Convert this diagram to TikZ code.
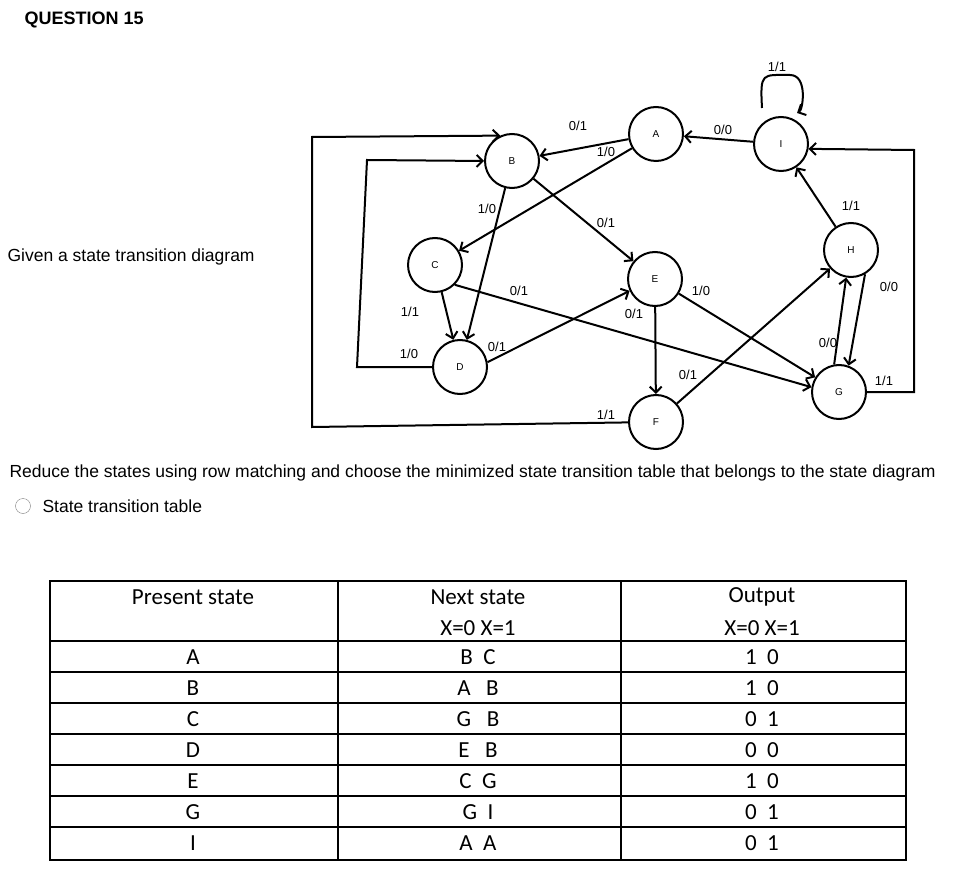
\documentclass[tikz,border=0pt]{standalone}
\usepackage{fontspec}
\setmainfont{Liberation Sans}
\newfontfamily\tabfont{Carlito}
\usetikzlibrary{arrows.meta}
\begin{document}
\begin{tikzpicture}[x=1pt,y=-1pt,
  state/.style={draw,circle,line width=2pt,minimum size=54pt,inner sep=0pt,font=\fontsize{10}{10}\selectfont},
  edge/.style={line width=2pt,-{Straight Barb[length=6pt,width=12pt]}},
  lbl/.style={font=\fontsize{13}{13}\selectfont,inner sep=0pt},
  cell/.style={font=\tabfont\fontsize{23}{23}\selectfont,inner sep=0pt}]
  \useasboundingbox (0,0) rectangle (960,882);
  % texts
  \node [anchor=west,font=\bfseries\fontsize{18}{18}\selectfont] (title) at (21,20) {QUESTION 15};
  \node [anchor=west,font=\fontsize{17.5}{17.5}\selectfont] (given) at (4,257) {Given a state transition diagram};
  \node [anchor=west,font=\fontsize{17.5}{17.5}\selectfont] (reduce) at (6,473) {Reduce the states using row matching and choose the minimized state transition table that belongs to the state diagram};
  \node [draw,circle,gray,minimum size=15pt,inner sep=0pt] (radio) at (23,506) {};
  \node [anchor=west,font=\fontsize{17.5}{17.5}\selectfont] (opt) at (39,506) {State transition table};
  % states
  \node [state] (A) at (656,134) {A};
  \node [state] (I) at (781,144) {I};
  \node [state] (B) at (512,161) {B};
  \node [state] (C) at (435,265) {C};
  \node [state] (E) at (655,279) {E};
  \node [state] (D) at (460,367) {D};
  \node [state] (F) at (656,422) {F};
  \node [state] (H) at (851,250) {H};
  \node [state] (G) at (839,392) {G};
  \coordinate (d1) at (357,367);
  \coordinate (d2) at (367,160);
  \coordinate (f1) at (312,427);
  \coordinate (f2) at (312,137);
  \coordinate (g1) at (914,392);
  \coordinate (g2) at (914,150);
  % transitions
  \draw [edge] (A) -- (B);
  \draw [edge] (A) -- (C);
  \draw [edge] (I) -- (A);
  \draw [edge] (762,108) .. controls (760,72) and (762,75) .. (790,75) .. controls (808,75) and (803,110) .. (797,113);
  \draw [edge] (B) -- (E);
  \draw [edge] (B) -- (D);
  \draw [edge] (C) -- (D);
  \draw [edge] (C.-45) -- (G.170);
  \draw [edge] (D.10) -- (E.205);
  \draw [edge] (D) -- (d1) -- (d2) -- (B.180);
  \draw [edge] (F) -- (f1) -- (f2) -- (B.115);
  \draw [edge] (E) -- (F);
  \draw [edge] (E) -- (G);
  \draw [edge] (F) -- (H);
  \draw [edge] (H) -- (I);
  \draw [edge] (H.-60) -- (G.70);
  \draw [edge] (G.100) -- (H.-100);
  \draw [edge] (G) -- (g1) -- (g2) -- (I.-10);
  % labels
  \node [lbl] (lab) at (578,126) {0/1};
  \node [lbl] (lac) at (606,152) {1/0};
  \node [lbl] (lia) at (723,130) {0/0};
  \node [lbl] (lii) at (777,67) {1/1};
  \node [lbl] (lbe) at (606,223) {0/1};
  \node [lbl] (lbd) at (487,209) {1/0};
  \node [lbl] (lcd) at (410,312) {1/1};
  \node [lbl] (lcg) at (519,291) {0/1};
  \node [lbl] (lde) at (497,347) {0/1};
  \node [lbl] (ldb) at (409,354) {1/0};
  \node [lbl] (lfb) at (606,415) {1/1};
  \node [lbl] (lef) at (634,314) {0/1};
  \node [lbl] (leg) at (701,291) {1/0};
  \node [lbl] (lfh) at (688,375) {0/1};
  \node [lbl] (lhi) at (851,206) {1/1};
  \node [lbl] (lhg) at (889,287) {0/0};
  \node [lbl] (lgh) at (828,343) {0/0};
  \node [lbl] (lgi) at (884,381) {1/1};
  % table
  \draw [line width=1.2pt] (50,581) rectangle (906,860);
  \foreach \y in {641,672,703,734,765,796,827} \draw [line width=1.2pt] (50,\y) -- (906,\y);
  \draw [line width=1.2pt] (338,581) -- (338,860) (621,581) -- (621,860);
  \node [cell] (h1) at (193,597) {Present state};
  \node [cell] (h2) at (478,597) {Next state};
  \node [cell] (h3) at (762,597) {Output};
  \node [cell] (h4) at (478,628) {X=0 X=1};
  \node [cell] (h5) at (762,628) {X=0 X=1};
  \foreach \s/\n/\o [count=\i] in {A/B\ \ C/1\ \ 0,B/A\ \ \ B/1\ \ 0,C/G\ \ \ B/0\ \ 1,D/E\ \ \ B/0\ \ 0,E/C\ \ G/1\ \ 0,G/G\ \ I/0\ \ 1,I/A\ \ A/0\ \ 1} {
    \node [cell] (p\i) at (193,626+31*\i) {\s};
    \node [cell] (n\i) at (478,626+31*\i) {\n};
    \node [cell] (o\i) at (762,626+31*\i) {\o};
  }
\end{tikzpicture}
\end{document}
